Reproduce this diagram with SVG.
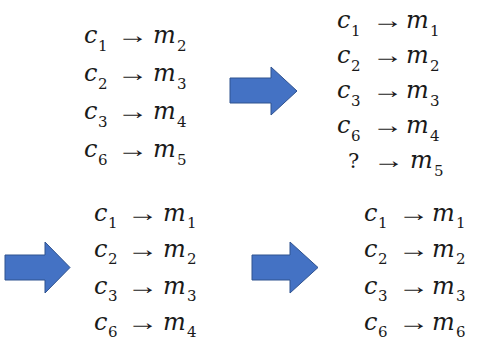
<svg xmlns="http://www.w3.org/2000/svg" xmlns:xlink="http://www.w3.org/1999/xlink" width="483" height="341" viewBox="0 0 483 341">
<style>
.v{font-family:"DejaVu Serif",serif;font-style:italic;font-size:24px;fill:#1a1a1a}
.s{font-family:"DejaVu Serif",serif;font-size:15px;fill:#1a1a1a}
.a{font-family:"Liberation Serif",serif;font-size:24px;fill:#1a1a1a}
.blk{fill:#4472C4;stroke:#2F528F;stroke-width:1}
</style>
<defs>
<text id="ar" class="a" x="0" y="0" transform="scale(1.3,1)">→</text>
</defs>
<rect width="483" height="341" fill="#ffffff"/>
<g id="block1">
<text class="v" x="84" y="43">c</text><text class="s" x="98" y="51">1</text><use href="#ar" x="117" y="43"/><text class="v" x="153" y="43">m</text><text class="s" x="177" y="51">2</text>
<text class="v" x="84" y="81">c</text><text class="s" x="98" y="89">2</text><use href="#ar" x="117" y="81"/><text class="v" x="153" y="81">m</text><text class="s" x="177" y="89">3</text>
<text class="v" x="84" y="119">c</text><text class="s" x="98" y="127">3</text><use href="#ar" x="117" y="119"/><text class="v" x="153" y="119">m</text><text class="s" x="177" y="127">4</text>
<text class="v" x="84" y="157">c</text><text class="s" x="98" y="165">6</text><use href="#ar" x="117" y="157"/><text class="v" x="153" y="157">m</text><text class="s" x="177" y="165">5</text>
</g>
<g id="block2">
<text class="v" x="337" y="28">c</text><text class="s" x="351" y="36">1</text><use href="#ar" x="372" y="28"/><text class="v" x="406" y="28">m</text><text class="s" x="430" y="36">1</text>
<text class="v" x="337" y="63">c</text><text class="s" x="351" y="71">2</text><use href="#ar" x="372" y="63"/><text class="v" x="406" y="63">m</text><text class="s" x="430" y="71">2</text>
<text class="v" x="337" y="98">c</text><text class="s" x="351" y="106">3</text><use href="#ar" x="372" y="98"/><text class="v" x="406" y="98">m</text><text class="s" x="430" y="106">3</text>
<text class="v" x="337" y="133">c</text><text class="s" x="351" y="141">6</text><use href="#ar" x="372" y="133"/><text class="v" x="406" y="133">m</text><text class="s" x="430" y="141">4</text>
<text class="s" style="font-size:21px" x="348" y="168">?</text><use href="#ar" x="373" y="168"/><text class="v" x="410" y="168">m</text><text class="s" x="434" y="176">5</text>
</g>
<g id="block3">
<text class="v" x="94" y="221">c</text><text class="s" x="108" y="228">1</text><use href="#ar" x="127" y="221"/><text class="v" x="163" y="221">m</text><text class="s" x="187" y="228">1</text>
<text class="v" x="94" y="257">c</text><text class="s" x="108" y="264">2</text><use href="#ar" x="127" y="257"/><text class="v" x="163" y="257">m</text><text class="s" x="187" y="264">2</text>
<text class="v" x="94" y="294">c</text><text class="s" x="108" y="301">3</text><use href="#ar" x="127" y="294"/><text class="v" x="163" y="294">m</text><text class="s" x="187" y="301">3</text>
<text class="v" x="94" y="330">c</text><text class="s" x="108" y="337">6</text><use href="#ar" x="127" y="330"/><text class="v" x="163" y="330">m</text><text class="s" x="187" y="337">4</text>
</g>
<g id="block4">
<text class="v" x="364" y="221">c</text><text class="s" x="378" y="228">1</text><use href="#ar" x="398" y="221"/><text class="v" x="432" y="221">m</text><text class="s" x="456" y="228">1</text>
<text class="v" x="364" y="257">c</text><text class="s" x="378" y="264">2</text><use href="#ar" x="398" y="257"/><text class="v" x="432" y="257">m</text><text class="s" x="456" y="264">2</text>
<text class="v" x="364" y="294">c</text><text class="s" x="378" y="301">3</text><use href="#ar" x="398" y="294"/><text class="v" x="432" y="294">m</text><text class="s" x="456" y="301">3</text>
<text class="v" x="364" y="330">c</text><text class="s" x="378" y="337">6</text><use href="#ar" x="398" y="330"/><text class="v" x="432" y="330">m</text><text class="s" x="456" y="337">6</text>
</g>
<g id="connectors">
<polygon class="blk" points="230,78 271,78 271,67 297,91 271,115 271,103 230,103"/>
<polygon class="blk" points="5,255 45,255 45,242 70,267.5 45,293 45,280 5,280"/>
<polygon class="blk" points="252,255 290,255 290,242 318,267.5 290,293 290,280 252,280"/>
</g>
</svg>
